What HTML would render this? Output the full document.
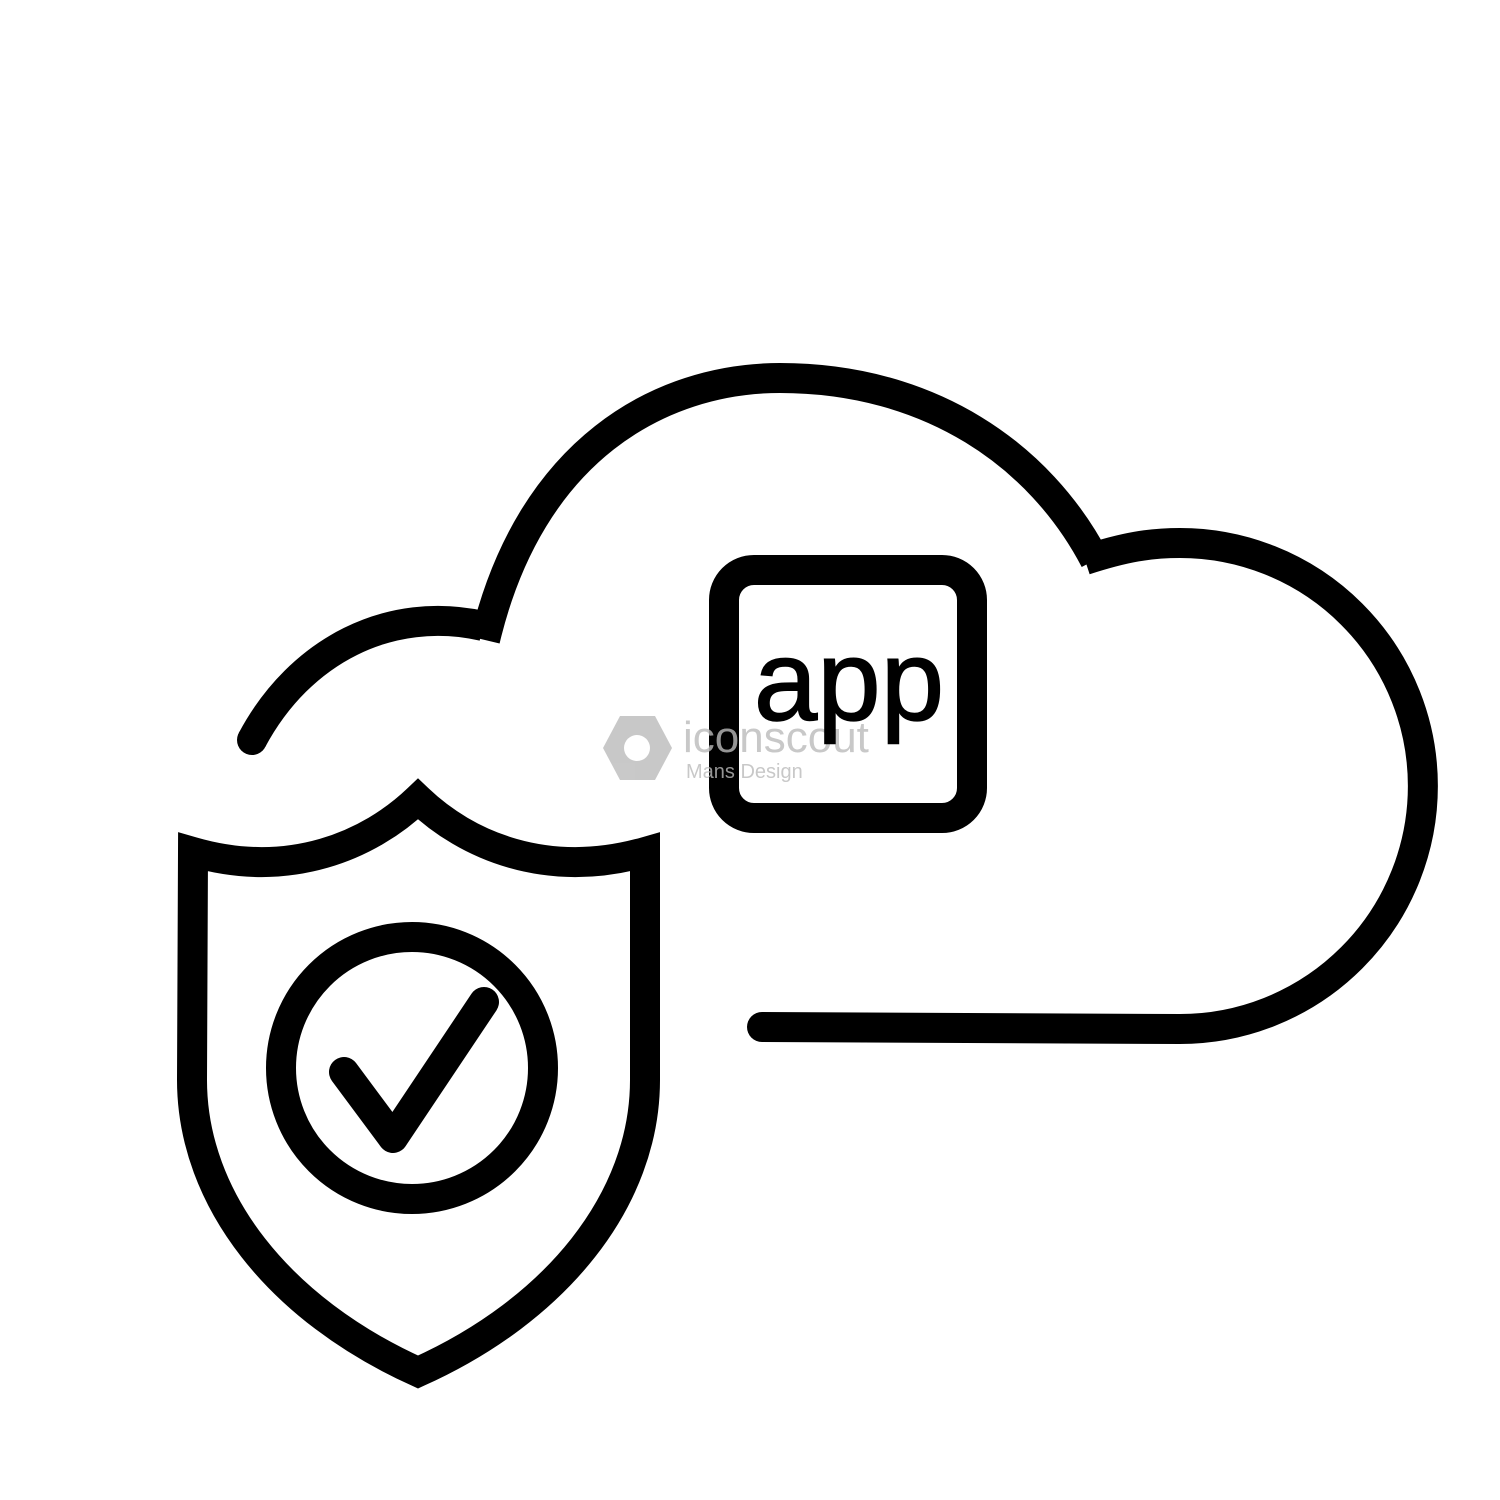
<!DOCTYPE html>
<html><head><meta charset="utf-8"><style>html,body{margin:0;padding:0;background:#fff}svg{display:block}</style></head>
<body>
<svg width="1500" height="1500" viewBox="0 0 1500 1500" xmlns="http://www.w3.org/2000/svg">
<rect width="1500" height="1500" fill="#fff"/>
<g fill="none" stroke="#000" stroke-width="30" stroke-linecap="round">
<path d="M252,740 C300,650 390,605 483,626" stroke-linecap="butt"/>
<circle cx="252" cy="740" r="15" fill="#000" stroke="none"/>
<path d="M485,640 C530,450 660,378 780,378 C930,378 1040,455 1095,560" stroke-linecap="butt"/>
<path d="M1085,560 C1125,547 1150,543 1180,543 A243,243 0 0 1 1180,1029 L762,1027" stroke-linecap="butt"/>
<circle cx="762" cy="1027" r="15" fill="#000" stroke="none"/>
<path d="M418,799 C370,845 290,880 193,852 L192,1080 C192,1200 280,1310 418,1372 C556,1310 645,1200 645,1080 L645,852 C546,880 466,845 418,799 Z" stroke-linecap="butt" stroke-linejoin="miter"/>
<circle cx="412" cy="1068" r="131"/>
<path d="M344,1072 L393,1138 L484,1002" stroke-linejoin="round"/>
<rect x="724" y="570" width="248" height="248" rx="30"/>
</g>
<g fill="#bbb" opacity="0.8">
<path d="M620,716 L655,716 L672,748 L655,780 L620,780 L603,748 Z"/>
<circle cx="637" cy="748" r="13" fill="#fff"/>
<text x="683" y="752" font-family="Liberation Sans, sans-serif" font-size="44" fill="#bbb">iconscout</text>
<text x="686" y="778" font-family="Liberation Sans, sans-serif" font-size="20" fill="#bbb">Mans Design</text>
</g>
<text x="849" y="720" text-anchor="middle" font-family="Liberation Sans, sans-serif" font-size="114" fill="#000" stroke="#000" stroke-width="1.5">app</text>
</svg>
</body></html>
